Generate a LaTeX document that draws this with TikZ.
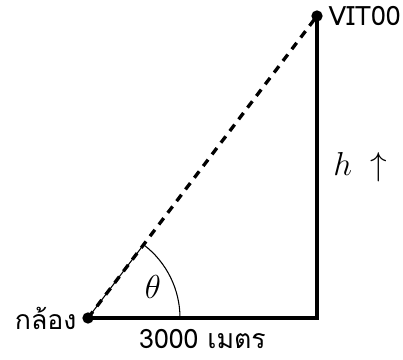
\documentclass[tikz,border=0pt]{standalone}
\usepackage{fontspec}
\newfontfamily\thaifont[Script=Thai]{Loma}
\usetikzlibrary{positioning}

\begin{document}
\begin{tikzpicture}[
  x=0.75pt, y=0.75pt,
  dot/.style={circle, fill=black, inner sep=0pt, minimum size=8.5pt},
  lbl/.style={font=\thaifont\fontsize{20}{24}\selectfont, inner sep=1pt},
  mathlbl/.style={font=\fontsize{23}{26}\selectfont, inner sep=1pt},
  side/.style={line width=2.5pt, line join=miter},
  sight/.style={line width=2.5pt, dash pattern=on 6pt off 5pt}
]
\useasboundingbox (0,0) rectangle (403,360);
\node[dot] (cam) at (88,42) {};
\node[dot] (top) at (317,344) {};
\coordinate (corner) at (317,42);

\node[lbl, left=3pt of cam] (camlbl) {กล้อง};
\node[lbl, right=3pt of top] (toplbl) {VIT00};

\draw[line width=0.8pt] (cam.center) -- ++(52.83:92) arc[start angle=52.83, end angle=0, radius=92] -- cycle;
\node[mathlbl] (theta) at (153,73) {$\theta$};

\draw[side] (cam.center) -- (corner) -- (top.center);
\draw[sight] (cam.center) -- (top.center);

\path (cam.center) -- (corner) node[lbl, midway, below=7pt] (base) {3000 เมตร};
\path (corner) -- (top.center) node[mathlbl, midway, right=11pt] (hlbl) {$h\;\uparrow$};
\end{tikzpicture}
\end{document}
